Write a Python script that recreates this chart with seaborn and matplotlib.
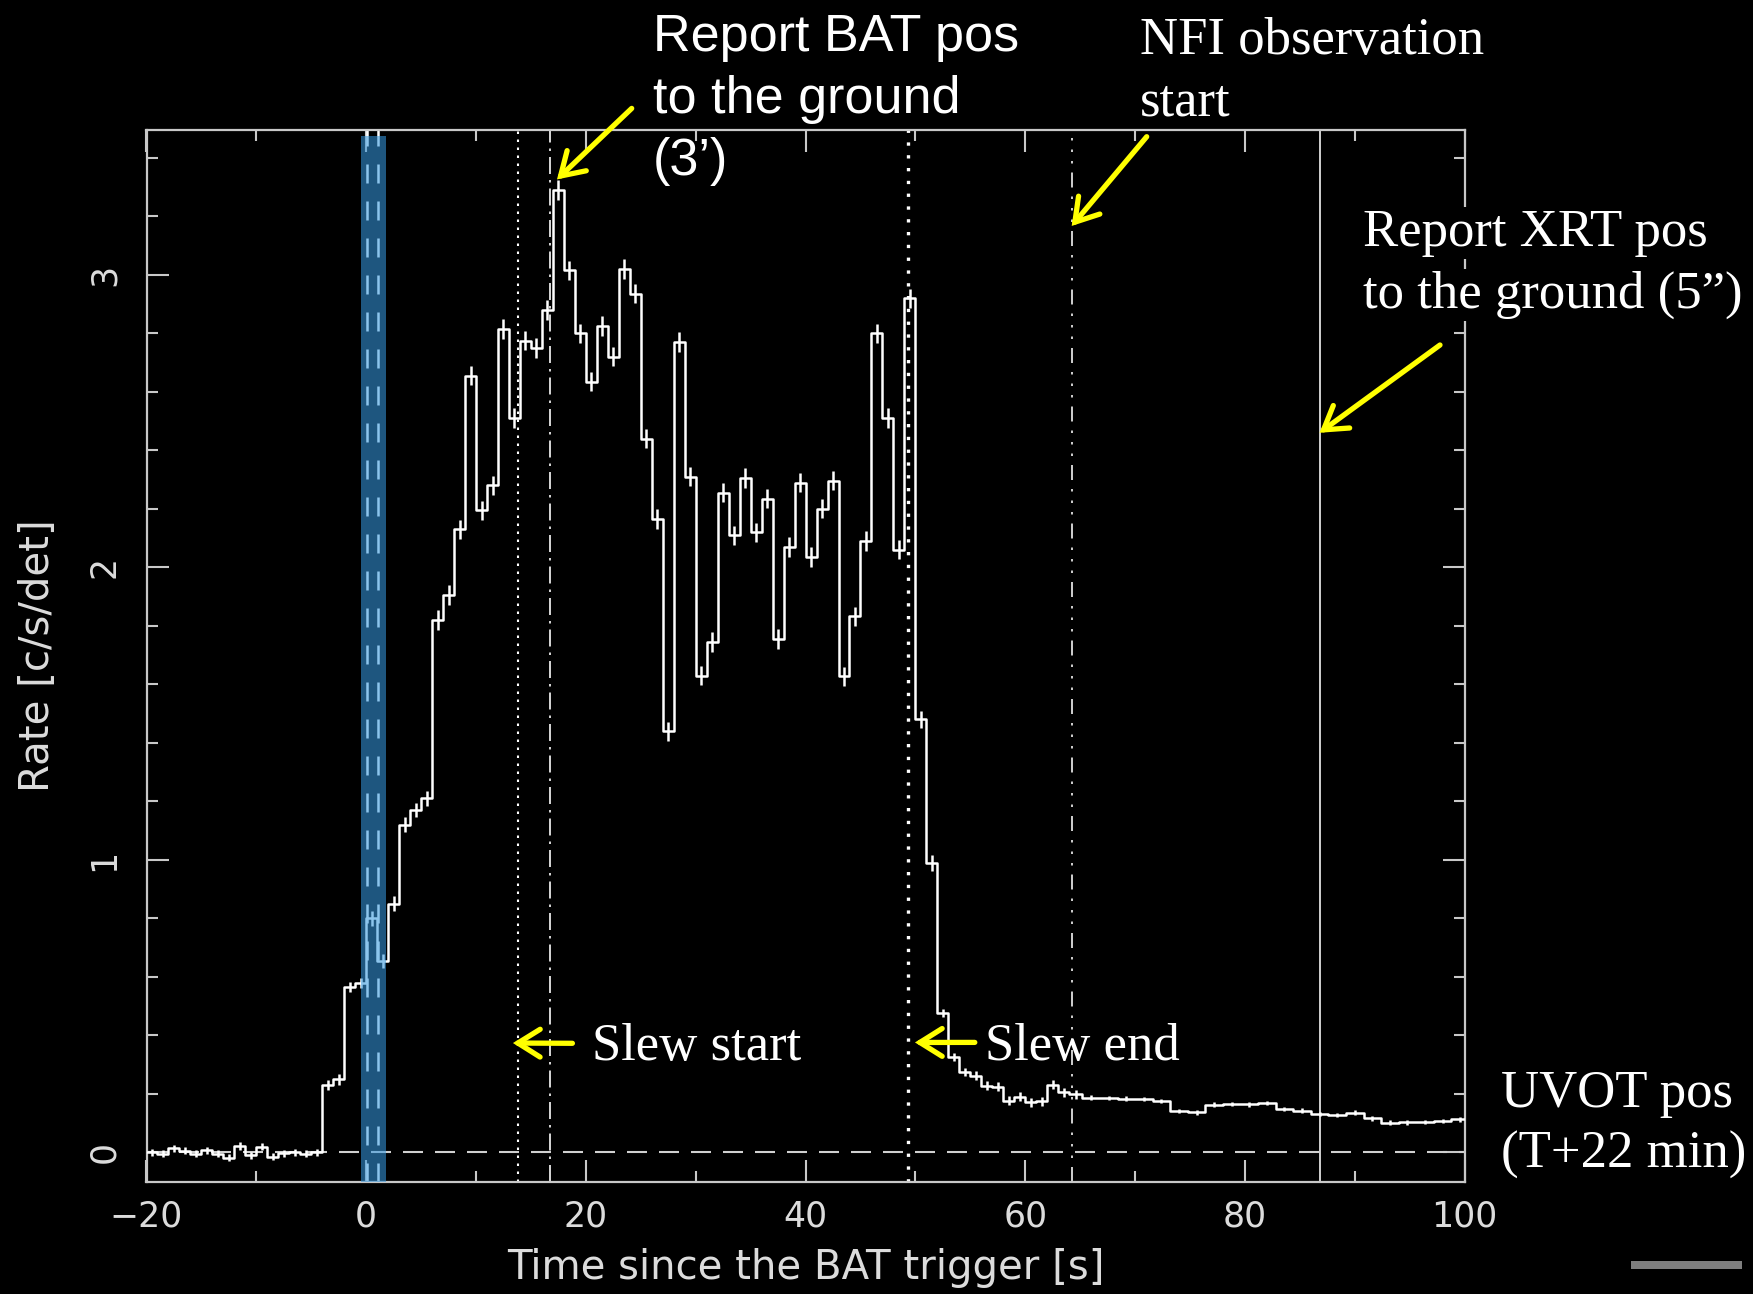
import numpy as np
import pandas as pd
import matplotlib
matplotlib.use("Agg")
import matplotlib.pyplot as plt
from matplotlib.ticker import MultipleLocator
from matplotlib.patches import Rectangle
import seaborn as sns

# ---------------- data ----------------
# bin start times [s]; 1-s bins up to 64 s, then ~1.6-s bins in the tail
bin_start = list(range(-20, 65)) + [65.2, 66.8, 68.4, 70.0, 71.6, 73.2, 74.8,
                                     76.4, 78.0, 79.6, 81.2, 82.8, 84.4, 86.0,
                                     87.6, 89.2, 90.8, 92.4, 94.0, 95.6, 97.2, 98.8]
last_bin_end = 100.4

rate = [
    # -20 .. -5
    0.000, -0.005, 0.015, 0.006, -0.005, 0.008, -0.005, -0.018,
    0.022, -0.010, 0.020, -0.015, -0.003, 0.000, -0.004, 0.001,
    # -4 .. -1
    0.230, 0.250, 0.565, 0.580,
    # 0 .. 5
    0.800, 0.655, 0.850, 1.120, 1.170, 1.210,
    # 6 .. 49
    1.820, 1.905, 2.130, 2.655, 2.195, 2.280, 2.815, 2.510, 2.775, 2.750,
    2.880, 3.290, 3.015, 2.800, 2.635, 2.825, 2.720, 3.020, 2.935, 2.440,
    2.165, 1.440, 2.770, 2.310, 1.630, 1.745, 2.255, 2.110, 2.305, 2.120,
    2.235, 1.755, 2.070, 2.290, 2.035, 2.200, 2.296, 1.627, 1.833, 2.090,
    2.800, 2.510, 2.060, 2.920,
    # 50 .. 51
    1.480, 0.990,
    # 52 .. 64
    0.477, 0.326, 0.275, 0.262, 0.228, 0.225, 0.177, 0.190, 0.172, 0.175,
    0.232, 0.205, 0.199,
    # tail
    0.187, 0.186, 0.184, 0.183, 0.176, 0.142, 0.137, 0.163, 0.166, 0.165,
    0.169, 0.149, 0.143, 0.131, 0.128, 0.136, 0.117, 0.102, 0.103, 0.104,
    0.108, 0.113,
]

rate_err = ([0.012] * 16 + [0.018] * 4 + [0.025] * 6 + [0.033] * 44 +
            [0.028] * 2 + [0.015] * 13 + [0.008] * 22)

# event markers [s]
slew_start = 13.8
bat_report = 16.7
slew_end = 49.3
nfi_start = 64.3
xrt_report = 86.8
band_lo, band_hi = -0.5, 1.83
band_lines = [0.1, 1.1]

x_ticks_major, x_ticks_minor = 20, 10
y_ticks_major, y_ticks_minor = 1, 0.2

# ---------------- build table ----------------
edges = np.array(bin_start + [last_bin_end], dtype=float)
centers = 0.5 * (edges[:-1] + edges[1:])
step_df = pd.DataFrame({"time": edges, "rate": rate + [rate[-1]]})

# ---------------- style ----------------
sns.set_theme(style="dark", rc={
    "axes.facecolor": "black",
    "figure.facecolor": "black",
    "savefig.facecolor": "black",
    "axes.edgecolor": "#c8c8c8",
    "text.color": "white",
    "axes.labelcolor": "#dcdcdc",
    "xtick.color": "#c8c8c8",
    "ytick.color": "#c8c8c8",
    "axes.grid": False,
})
plt.rcParams["font.family"] = ["DejaVu Sans"]

W, H = 1753, 1294
fig = plt.figure(figsize=(W / 100, H / 100), dpi=100)
ax = fig.add_axes([146.5 / W, 1 - 1181.7 / H, 1318.1 / W, 1052.0 / H])
ax.set_facecolor("black")

def pxdash(lw, *px):
    return (0, tuple(p * 0.72 / lw for p in px))

# light curve (step) and error bars
sns.lineplot(data=step_df, x="time", y="rate", drawstyle="steps-post",
             estimator=None, sort=False, color="white", lw=1.8, ax=ax,
             zorder=3)
ax.errorbar(centers, rate, yerr=rate_err, fmt="none", ecolor="white",
            elinewidth=1.8, capsize=0, zorder=3)

# zero line
ax.axhline(0, color="#d0d0d0", lw=1.5, ls=pxdash(1.5, 20, 12), zorder=2)

# vertical event lines
ax.axvline(slew_start, color="white", lw=1.5, ls=pxdash(1.5, 2.5, 5.5), zorder=2)
ax.axvline(bat_report, color="#e8e8e8", lw=1.3, ls=pxdash(1.3, 17, 6, 2.5, 6), zorder=2)
ax.axvline(slew_end, color="white", lw=2.4, ls=pxdash(2.4, 3.3, 9.5), zorder=2)
ax.axvline(nfi_start, color="#e0e0e0", lw=1.3,
           ls=pxdash(1.3, 15, 9, 2.5, 9, 2.5, 9, 2.5, 9), zorder=2)
ax.axvline(xrt_report, color="#e0e0e0", lw=1.3, zorder=2)

# band with dashed lines beneath it
for bl in band_lines:
    ax.axvline(bl, color="white", lw=1.8, ls=pxdash(1.8, 19, 18), zorder=2)
ax.axvspan(band_lo, band_hi, ymin=0, ymax=0.994, color=(0.21, 0.6, 0.88),
           alpha=0.57, lw=0, zorder=5)

# axes limits / ticks
ax.set_xlim(-20, 100)
ax.set_ylim(-0.1, 3.496)
ax.xaxis.set_major_locator(MultipleLocator(x_ticks_major))
ax.xaxis.set_minor_locator(MultipleLocator(x_ticks_minor))
ax.yaxis.set_major_locator(MultipleLocator(y_ticks_major))
ax.yaxis.set_minor_locator(MultipleLocator(y_ticks_minor))
ax.tick_params(which="major", direction="in", length=16, width=1.5,
               top=True, right=True, bottom=True, left=True,
               color="#c8c8c8", labelcolor="#dcdcdc", labelsize=25)
ax.tick_params(which="minor", direction="in", length=8, width=1.5,
               top=True, right=True, bottom=True, left=True, color="#c8c8c8")
ax.tick_params(axis="x", which="major", pad=13)
ax.tick_params(axis="y", which="major", pad=18, labelrotation=90)
for lab in ax.get_yticklabels():
    lab.set_va("center")
for sp in ax.spines.values():
    sp.set_color("#c8c8c8")
    sp.set_linewidth(1.6)

ax.set_xlabel("Time since the BAT trigger [s]", fontsize=29, color="#dcdcdc")
ax.set_ylabel("Rate [c/s/det]", fontsize=29, color="#dcdcdc")
ax.xaxis.set_label_coords(0.5, -0.063)
ax.yaxis.set_label_coords(-0.067, 0.5)

# ---------------- annotations ----------------
serif = ["Liberation Serif", "DejaVu Serif"]
sans = ["Liberation Sans", "DejaVu Sans"]

def ftext(x, y, s, fam, size=38, box=False):
    kw = {}
    if box:
        kw["bbox"] = dict(facecolor="black", edgecolor="none", pad=1)
    fig.text(x / W, 1 - y / H, s, family=fam, fontsize=size, color="white",
             ha="left", va="baseline", zorder=20, **kw)

ftext(653, 51, "Report BAT pos", sans, 37.5)
ftext(653, 113, "to the ground", sans, 37.5)
ftext(653, 175, "(3\u2019)", sans, 37.5)

ftext(1140, 54, "NFI observation", serif)
ftext(1140, 116, "start", serif)

ftext(1363, 246, "Report XRT pos", serif, box=True)
ftext(1363, 308, "to the ground (5\u201d)", serif, box=True)

ftext(592, 1060, "Slew start", serif)
ftext(985, 1060, "Slew end", serif)

ftext(1501, 1107, "UVOT pos", serif)
ftext(1501, 1168, "(T+22 min)", serif)

arrow_kw = dict(arrowstyle="->,head_length=0.8,head_width=0.5",
                color="#ffff00", lw=3.8, shrinkA=0, shrinkB=0,
                mutation_scale=20, capstyle="round", joinstyle="miter")

def arrow(tip, tail_px):
    ax.annotate("", xy=tip, xycoords="data",
                xytext=(tail_px[0], H - tail_px[1]), textcoords="figure pixels",
                arrowprops=arrow_kw, annotation_clip=False, zorder=10)

arrow((17.37, 3.326), (631.7, 108.4))
arrow((64.23, 3.167), (1146.7, 136.7))
arrow((86.79, 2.46), (1440.0, 345.0))
arrow((13.36, 0.374), (572.4, 1043.3))
arrow((49.96, 0.376), (974.8, 1042.4))

# small grey bar at bottom right
fig.patches.append(Rectangle((1631 / W, 1 - 1269 / H), 111 / W, 8 / H,
                             transform=fig.transFigure, color="#7f7f7f",
                             lw=0))

fig.savefig("out.png", dpi=100, facecolor="black")
